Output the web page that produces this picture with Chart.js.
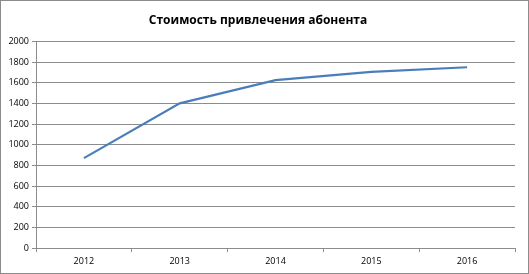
<!DOCTYPE html>
<html>
<head>
<meta charset="utf-8">
<script src="https://cdn.jsdelivr.net/npm/chart.js@4/dist/chart.umd.min.js"></script>
<style>
  html, body { margin: 0; padding: 0; background: #fff; }
  #wrap { position: relative; width: 527px; height: 272px; border: 1px solid #8c8c8c; }
</style>
</head>
<body>
<div id="wrap"><canvas id="costChart" width="527" height="272"></canvas></div>
<script>
// 연도별 가입자 유치 비용
const years = ['2012', '2013', '2014', '2015', '2016'];
const costValues = [870, 1400, 1625, 1705, 1750];
const yTicks = [0, 200, 400, 600, 800, 1000, 1200, 1400, 1600, 1800, 2000];

const ctx = document.getElementById('costChart').getContext('2d');

const data = {
    labels: years,
    datasets: [
        {
            label: 'Стоимость',
            data: costValues,
            borderColor: '#4a7ebb',
            borderWidth: 2.2,
            pointRadius: 0,
            tension: 0,
            fill: false
        }
    ]
};

const options = {
    responsive: false,
    animation: false,
    layout: { padding: { left: 0, right: 13, top: 0, bottom: 0 } },
    plugins: {
        legend: { display: false },
        tooltip: { enabled: false },
        title: {
            display: true,
            text: 'Стоимость привлечения абонента',
            color: '#000',
            font: { family: 'Open Sans', size: 12, weight: 'bold' },
            padding: { top: 12, bottom: 14 }
        }
    },
    scales: {
        x: {
            offset: true,
            grid: { display: true, offset: true, drawOnChartArea: false, color: '#8c8c8c', tickLength: 4 },
            border: { color: '#8c8c8c' },
            ticks: { color: '#000', font: { family: 'Open Sans', size: 9 }, padding: 4 },
            afterFit: function (scale) { scale.height = 25; }
        },
        y: {
            min: 0,
            max: 2000,
            afterBuildTicks: function (scale) { scale.ticks = yTicks.map(v => ({ value: v })); },
            grid: { color: '#8c8c8c', tickLength: 4 },
            border: { color: '#8c8c8c' },
            ticks: {
                color: '#000',
                font: { family: 'Open Sans', size: 9 },
                padding: 3,
                callback: function (value) { return String(value); }
            },
            afterFit: function (scale) { scale.width = 35; }
        }
    }
};

const costChart = new Chart(ctx, {
    type: 'line',
    data: data,
    options: options
});
</script>
</body>
</html>
